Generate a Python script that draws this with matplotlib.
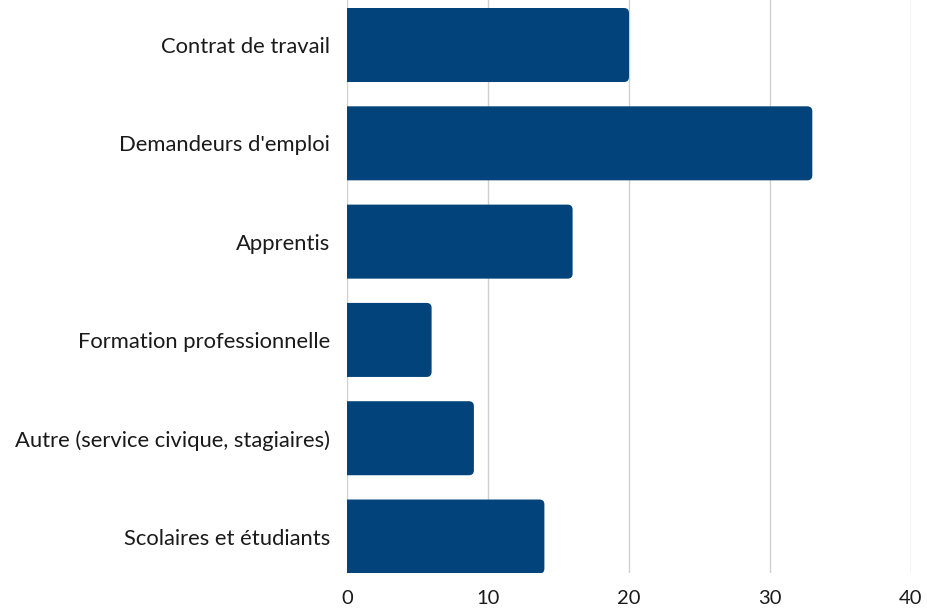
import matplotlib
matplotlib.use("Agg")
import matplotlib.pyplot as plt
from matplotlib.path import Path
from matplotlib.patches import PathPatch

categories = ["Contrat de travail", "Demandeurs d'emploi", "Apprentis",
              "Formation professionnelle", "Autre (service civique, stagiaires)",
              "Scolaires et étudiants"]
values = [20, 33, 16, 6, 9, 14]
xticks = [0, 10, 20, 30, 40]

plt.rcParams['font.family'] = ['Lato', 'DejaVu Sans']
BAR = "#01437A"
TXT = "#1a1a1a"

W, H, DPI = 928, 610, 100
fig = plt.figure(figsize=(W / DPI, H / DPI), dpi=DPI)
ax = fig.add_axes([347 / W, (H - 573) / H, (911 - 347) / W, 573 / H])

ypos = list(range(len(categories)))
ax.set_xlim(0, 40)
ax.set_ylim(5.371, -0.458)
bars = ax.barh(ypos, values, height=0.753, color=BAR, alpha=0)

# rounded right corners
px_x = (911 - 347) / 40.0
px_y = 573 / (5.371 + 0.458)
r = 5.0
rx, ry = r / px_x, r / px_y
for rect in bars:
    x0, y0 = rect.get_x(), rect.get_y()
    w, h = rect.get_width(), rect.get_height()
    x1, y1 = x0 + w, y0 + h
    verts = [(x0, y0), (x1 - rx, y0), (x1, y0), (x1, y0 + ry),
             (x1, y1 - ry), (x1, y1), (x1 - rx, y1), (x0, y1), (x0, y0)]
    codes = [Path.MOVETO, Path.LINETO, Path.CURVE3, Path.CURVE3,
             Path.LINETO, Path.CURVE3, Path.CURVE3, Path.LINETO, Path.CLOSEPOLY]
    ax.add_patch(PathPatch(Path(verts, codes), facecolor=BAR, edgecolor='none', zorder=3))

ax.set_xticks(xticks)
ax.set_xticklabels([str(t) for t in xticks], fontsize=14.5, color=TXT)
ax.set_yticks(ypos)
ax.set_yticklabels(categories, fontsize=15.8, color=TXT)
ax.tick_params(axis='both', length=0)
ax.tick_params(axis='y', pad=12)
ax.tick_params(axis='x', pad=12)
ax.grid(axis='x', color='#d0d0d0', linewidth=1, zorder=0)
ax.set_axisbelow(True)
for s in ax.spines.values():
    s.set_visible(False)

fig.savefig("out.png", dpi=DPI)
